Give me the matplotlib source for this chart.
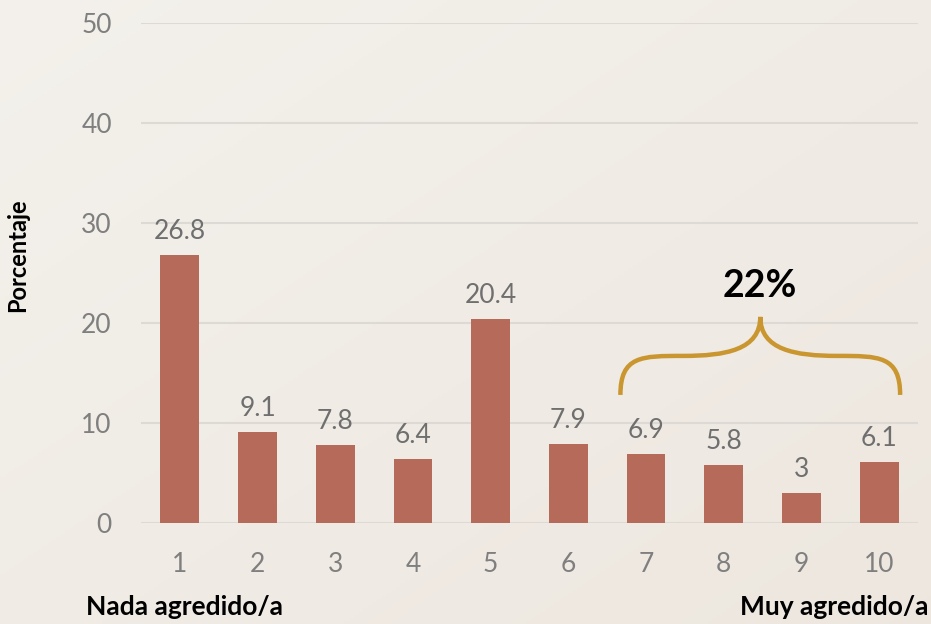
import matplotlib
matplotlib.use("Agg")
import matplotlib.pyplot as plt
import numpy as np
from matplotlib.path import Path
from matplotlib.patches import PathPatch

categories = ["1", "2", "3", "4", "5", "6", "7", "8", "9", "10"]
values = [26.8, 9.1, 7.8, 6.4, 20.4, 7.9, 6.9, 5.8, 3, 6.1]
value_labels = ["26.8", "9.1", "7.8", "6.4", "20.4", "7.9", "6.9", "5.8", "3", "6.1"]
yticks = [0, 10, 20, 30, 40, 50]
group_label = "22%"
group_start, group_end = 6, 9  # indices of bracketed categories

plt.rcParams['font.family'] = ['Lato', 'DejaVu Sans']

fig = plt.figure(figsize=(9.31, 6.24), dpi=100)

# background gradient
bg = fig.add_axes([0, 0, 1, 1], zorder=-10)
gx, gy = np.meshgrid(np.linspace(0, 1, 200), np.linspace(0, 1, 200))
g = (gx + gy) / 2
c1 = np.array([0.955, 0.945, 0.925])
c2 = np.array([0.93, 0.905, 0.875])
img = c1[None, None, :] * (1 - g[..., None]) + c2[None, None, :] * g[..., None]
bg.imshow(img, aspect='auto', extent=[0, 1, 0, 1], origin='upper')
bg.axis('off')

ax = fig.add_axes([141 / 931, 1 - 523 / 624, (918 - 141) / 931, (523 - 22.7) / 624])
ax.patch.set_alpha(0)

x = np.arange(len(categories))
bar_color = '#b66a59'
ax.bar(x, values, width=0.5, color=bar_color, zorder=3)
ax.set_xlim(-0.5, len(categories) - 0.5)
ax.set_ylim(0, 50)
ax.set_yticks(yticks)
ax.set_yticklabels([str(t) for t in yticks])
ax.set_xticks(x)
ax.set_xticklabels(categories)
ax.tick_params(axis='both', length=0, labelsize=19, labelcolor='#7f7f7f')
ax.tick_params(axis='y', pad=21)
ax.tick_params(axis='x', pad=21)
ax.grid(axis='y', color='#dddad5', linewidth=1.5, zorder=0)
for s in ax.spines.values():
    s.set_visible(False)

for xi, v, lab in zip(x, values, value_labels):
    ax.annotate(lab, (xi, v), xytext=(0, 8), textcoords='offset points',
                ha='center', va='bottom', fontsize=19, color='#6f6f6f')

# brace
x0 = group_start - 0.33
x1 = group_end + 0.27
xm = (x0 + x1) / 2
y0, ym, yt = 12.8, 16.7, 20.6
w = xm - x0
verts = [
    (x0, y0), (x0, ym), (x0 + 0.15 * w, ym), (x0 + 0.45 * w, ym),
    (xm - 0.25 * w, ym), (xm, ym + 0.6), (xm, yt),
    (xm, ym + 0.6), (xm + 0.25 * w, ym), (x1 - 0.45 * w, ym),
    (x1 - 0.15 * w, ym), (x1, ym), (x1, y0),
]
codes = [Path.MOVETO] + [Path.CURVE4] * 12
ax.add_patch(PathPatch(Path(verts, codes), fill=False, edgecolor='#c9962f',
                       linewidth=3.2, capstyle='butt', zorder=4))
ax.text(xm, 23.7, group_label, ha='center', va='center', fontsize=27,
        fontweight='bold', color='black')

fig.text(18 / 931, 1 - 255 / 624, "Porcentaje", rotation=90, ha='center', va='center',
         fontsize=17, fontweight='bold', color='black')
fig.text(184 / 931, 1 - 607 / 624, "Nada agredido/a", ha='center', va='center',
         fontsize=19, fontweight='bold', color='black')
fig.text(929 / 931, 1 - 607 / 624, "Muy agredido/a", ha='right', va='center',
         fontsize=19, fontweight='bold', color='black')

fig.savefig("out.png", dpi=100)
